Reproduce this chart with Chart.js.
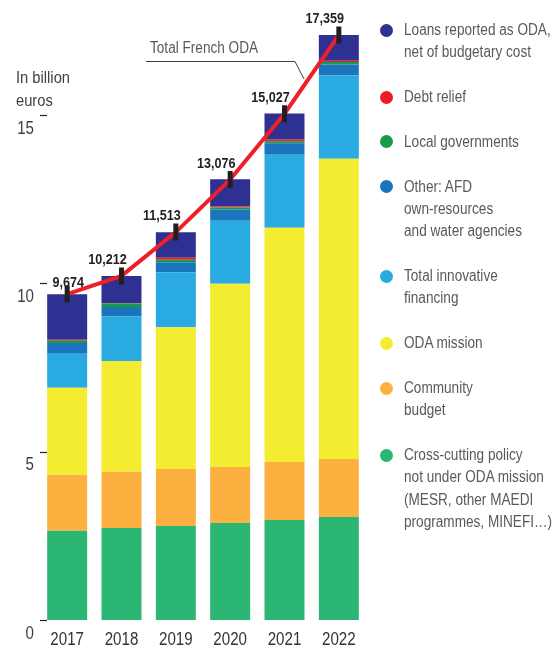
<!DOCTYPE html>
<html>
<head>
<meta charset="utf-8">
<script src="https://cdn.jsdelivr.net/npm/chart.js@4.4.1/dist/chart.umd.min.js"></script>
<style>
  html, body { margin: 0; padding: 0; background: #fff; }
  #wrap { position: relative; width: 560px; height: 650px; font-family: 'Liberation Sans', Arial, sans-serif; }
  #chart { position: absolute; left: 0; top: 0; }
  #lines { position: absolute; left: 0; top: 0; }
  .note { position: absolute; font-size: 16px; line-height: 23px; white-space: nowrap; transform-origin: 0 0; }
  #unit { left: 16px; top: 65.5px; color: #414042; transform: scaleX(0.92); }
  #totalNote { left: 150px; top: 35.5px; color: #58595b; transform: scaleX(0.85); }
  #legend { position: absolute; left: 380px; top: 19px; }
  .item { position: relative; padding-left: 24px; font-size: 16px; line-height: 22.3px; color: #58595b; margin-bottom: 22.5px; white-space: nowrap; }
  .item .txt { display: inline-block; transform: scaleX(0.85); transform-origin: 0 0; }
  .dot { position: absolute; left: 0; top: 4.6px; width: 13px; height: 13px; border-radius: 50%; }
</style>
</head>
<body>
<div id="wrap">
  <canvas id="chart" width="560" height="650"></canvas>
  <svg id="lines" width="560" height="650">
    <polyline points="146,61.5 295,61.5 304,79" fill="none" stroke="#414042" stroke-width="1"/>
  </svg>
  <div class="note" id="unit">In billion<br>euros</div>
  <div class="note" id="totalNote">Total French ODA</div>
  <div id="legend"></div>
</div>
<script>
const years = ['2017', '2018', '2019', '2020', '2021', '2022'];
const totals = [9.674, 10.212, 11.513, 13.076, 15.027, 17.359];
const totalLabels = ['9,674', '10,212', '11,513', '13,076', '15,027', '17,359'];

// segments, bottom to top (billion euros)
const crossCutting = [2.65, 2.73, 2.79, 2.88, 2.97, 3.06];
const communityBudget = [1.66, 1.67, 1.69, 1.66, 1.72, 1.72];
const odaMission = [2.58, 3.29, 4.21, 5.44, 6.95, 8.91];
const innovativeFinancing = [1.01, 1.32, 1.63, 1.87, 2.17, 2.47];
const otherAfd = [0.32, 0.28, 0.30, 0.33, 0.34, 0.33];
const localGovernments = [0.07, 0.10, 0.07, 0.06, 0.06, 0.07];
const debtRelief = [0.03, 0.02, 0.06, 0.04, 0.05, 0.04];
const loans = [1.35, 0.80, 0.76, 0.80, 0.77, 0.76];

const yTicks = [0, 5, 10, 15];

const legendLabels = [
  ['Loans reported as ODA,', 'net of budgetary cost'],
  ['Debt relief'],
  ['Local governments'],
  ['Other: AFD', 'own-resources', 'and water agencies'],
  ['Total innovative', 'financing'],
  ['ODA mission'],
  ['Community', 'budget'],
  ['Cross-cutting policy', 'not under ODA mission', '(MESR, other MAEDI', 'programmes, MINEFI\u2026)']
];

const colors = {
  loans: '#2e3192',
  debt: '#ed1c24',
  local: '#179a4a',
  other: '#1b75bc',
  innovative: '#29abe2',
  oda: '#f4ec31',
  community: '#fbb040',
  cross: '#2bb673'
};
const legendColors = [colors.loans, colors.debt, colors.local, colors.other,
  colors.innovative, colors.oda, colors.community, colors.cross];

// legend as html
const legend = document.getElementById('legend');
legendLabels.forEach((lines, i) => {
  const item = document.createElement('div');
  item.className = 'item';
  const dot = document.createElement('span');
  dot.className = 'dot';
  dot.style.background = legendColors[i];
  item.appendChild(dot);
  const txt = document.createElement('span');
  txt.className = 'txt';
  lines.forEach((t, j) => {
    if (j > 0) txt.appendChild(document.createElement('br'));
    txt.appendChild(document.createTextNode(t));
  });
  item.appendChild(txt);
  legend.appendChild(item);
});

const FONT = "'Liberation Sans', Arial, sans-serif";
const SQUEEZE = 0.84; // the original uses a condensed face

// squeeze the axis labels horizontally (only while the scales are drawn)
const condense = {
  id: 'condense',
  beforeDraw(chart) {
    const ctx = chart.ctx;
    const rotate = CanvasRenderingContext2D.prototype.rotate;
    ctx.rotate = function (a) { rotate.call(this, a); this.scale(SQUEEZE, 1); };
  },
  beforeDatasetsDraw(chart) {
    delete chart.ctx.rotate;
  }
};

// small dashes for the y ticks, and the total labels
const extras = {
  id: 'extras',
  afterDatasetsDraw(chart) {
    const { ctx, chartArea, scales: { x, y } } = chart;
    ctx.save();
    ctx.strokeStyle = '#231f20';
    ctx.lineWidth = 1.2;
    y.ticks.forEach(t => {
      const py = Math.round(y.getPixelForValue(t.value)) + 0.5;
      ctx.beginPath();
      ctx.moveTo(chartArea.left, py);
      ctx.lineTo(chartArea.left + 7, py);
      ctx.stroke();
    });
    ctx.fillStyle = '#231f20';
    ctx.font = 'bold 15px ' + FONT;
    ctx.textAlign = 'center';
    ctx.textBaseline = 'middle';
    totals.forEach((v, i) => {
      const px = x.getPixelForValue(i);
      const py = y.getPixelForValue(v);
      ctx.save();
      if (i === 0) ctx.translate(px + 1, py - 11);
      else ctx.translate(px - 14, py - 16);
      ctx.scale(SQUEEZE, 1);
      ctx.fillText(totalLabels[i], 0, 0);
      ctx.restore();
    });
    ctx.restore();
  }
};

const bar = (label, data, color) => ({
  type: 'bar', label, data, backgroundColor: color, borderWidth: 0,
  categoryPercentage: 1, barPercentage: 0.736
});

new Chart(document.getElementById('chart'), {
  data: {
    labels: years,
    datasets: [
      {
        type: 'line',
        label: 'Total French ODA',
        data: totals,
        stack: 'total',
        borderColor: '#ee1f26',
        borderWidth: 4,
        fill: false,
        tension: 0,
        pointStyle: 'line',
        rotation: 90,
        pointRadius: 8.5,
        pointBorderWidth: 5,
        pointBorderColor: '#231f20',
        pointBackgroundColor: '#231f20'
      },
      bar('Cross-cutting policy', crossCutting, colors.cross),
      bar('Community budget', communityBudget, colors.community),
      bar('ODA mission', odaMission, colors.oda),
      bar('Total innovative financing', innovativeFinancing, colors.innovative),
      bar('Other: AFD own-resources and water agencies', otherAfd, colors.other),
      bar('Local governments', localGovernments, colors.local),
      bar('Debt relief', debtRelief, colors.debt),
      bar('Loans reported as ODA', loans, colors.loans)
    ]
  },
  options: {
    responsive: false,
    devicePixelRatio: 1,
    animation: false,
    layout: { padding: { top: 13, right: 194, left: 0, bottom: 0 } },
    plugins: {
      legend: { display: false },
      tooltip: { enabled: false }
    },
    scales: {
      x: {
        stacked: true,
        grid: { display: false, drawTicks: false },
        border: { display: false },
        ticks: { color: '#333', font: { family: FONT, size: 18 }, padding: 9 },
        afterFit: s => { s.height = 30; }
      },
      y: {
        stacked: true,
        min: 0,
        max: 18,
        grid: { display: false, drawTicks: false },
        border: { display: false },
        afterBuildTicks: s => { s.ticks = yTicks.map(v => ({ value: v })); },
        ticks: { color: '#414042', font: { family: FONT, size: 18 }, padding: 6, labelOffset: 14 },
        afterFit: s => { s.width = 40; s.paddingTop = 0; s.paddingBottom = 0; }
      }
    }
  },
  plugins: [condense, extras]
});
</script>
</body>
</html>
